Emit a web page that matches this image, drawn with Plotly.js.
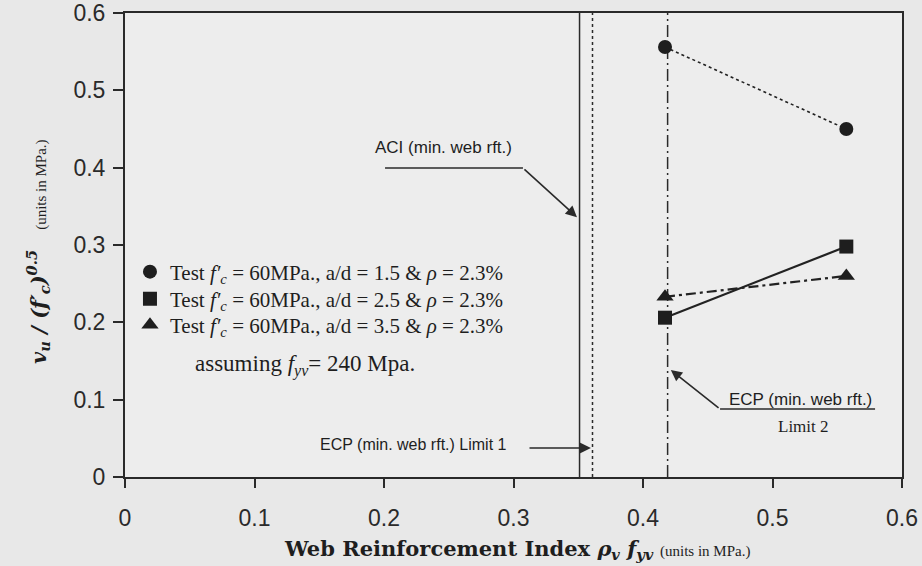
<!DOCTYPE html>
<html><head><meta charset="utf-8">
<script src="https://cdn.plot.ly/plotly-3.0.1.min.js"></script>
<style>html,body{margin:0;padding:0;background:#e8e8e8}</style>
</head><body><div id="chart" style="width:922px;height:566px"></div>
<script>
// ---- data ----
const seriesLabels = [
  'Test <i>f′<sub>c</sub></i> = 60MPa., a/d = 1.5 & <i>ρ</i> = 2.3%',
  'Test <i>f′<sub>c</sub></i> = 60MPa., a/d = 2.5 & <i>ρ</i> = 2.3%',
  'Test <i>f′<sub>c</sub></i> = 60MPa., a/d = 3.5 & <i>ρ</i> = 2.3%'
];
const seriesSymbols = ['circle', 'square', 'triangle-up'];
const seriesDash = ['dot', 'solid', '10px,4px,3px,4px'];
const webIndex = [0.417, 0.557];
const circleVals = [0.556, 0.450];
const squareVals = [0.206, 0.298];
const triangleVals = [0.233, 0.260];
const limitNames = ['ACI (min. web rft.)', 'ECP (min. web rft.) Limit 1', 'ECP (min. web rft.) Limit 2'];
const limitX = [0.351, 0.361, 0.419];
const limitDash = ['solid', 'dot', '12px,4px,2px,4px'];
const xTickVals = [0, 0.1, 0.2, 0.3, 0.4, 0.5, 0.6];
const xTickText = ['0', '0.1', '0.2', '0.3', '0.4', '0.5', '0.6'];
const yTickVals = [0, 0.1, 0.2, 0.3, 0.4, 0.5, 0.6];
const yTickText = ['0', '0.1', '0.2', '0.3', '0.4', '0.5', '0.6'];
const yRange = [0, 0.6];
const xRange = [0, 0.6];

const ink = '#1e1e1e';
const serif = 'Liberation Serif, Times New Roman, serif';
const sans = 'Liberation Sans, Arial, sans-serif';

const traces = [];
limitX.forEach((v, i) => {
  traces.push({
    x: [v, v], y: yRange, mode: 'lines', name: limitNames[i], showlegend: false,
    line: {color: '#2a2a2a', width: 1.5, dash: limitDash[i]}, hoverinfo: 'skip'
  });
});
const seriesVals = [circleVals, squareVals, triangleVals];
seriesVals.forEach((vals, i) => {
  traces.push({
    x: webIndex, y: vals, mode: 'lines+markers', name: seriesLabels[i], showlegend: false,
    line: {color: '#222', width: i === 0 ? 1.6 : 2.2, dash: seriesDash[i]},
    marker: {symbol: seriesSymbols[i], size: i === 2 ? 15 : 14, color: ink}
  });
});
// legend entries (marker only, as in the reference), one legend per row
const legendIds = ['legend', 'legend2', 'legend3'];
seriesLabels.forEach((lab, i) => {
  traces.push({
    x: [null], y: [null], mode: 'markers', name: lab, showlegend: true, legend: legendIds[i],
    marker: {symbol: seriesSymbols[i], size: i === 2 ? 15 : 14, color: ink}
  });
});

const arrowCommon = {showarrow: true, text: '', arrowhead: 2, arrowsize: 1.4, arrowwidth: 1.6,
  arrowcolor: '#2a2a2a', xref: 'x', yref: 'y', axref: 'x', ayref: 'y'};

const annotations = [
  {x: 0.2456, y: 0.4267, xref: 'x', yref: 'y', showarrow: false, text: limitNames[0],
   font: {family: sans, size: 17, color: ink}},
  Object.assign({x: 0.349, y: 0.336, ax: 0.3073, ay: 0.3996}, arrowCommon),
  {x: 0.2224, y: 0.0414, xref: 'x', yref: 'y', showarrow: false, text: limitNames[1],
   font: {family: sans, size: 16, color: ink}},
  Object.assign({x: 0.3598, y: 0.0375, ax: 0.3112, ay: 0.0375}, arrowCommon),
  {x: 0.522, y: 0.0996, xref: 'x', yref: 'y', showarrow: false, text: 'ECP (min. web rft.)',
   font: {family: sans, size: 17, color: ink}},
  {x: 0.5236, y: 0.0647, xref: 'x', yref: 'y', showarrow: false, text: 'Limit 2',
   font: {family: serif, size: 17, color: ink}},
  Object.assign({x: 0.4215, y: 0.1384, ax: 0.4595, ay: 0.0879}, arrowCommon),
  {x: 0.139, y: 0.1448, xref: 'x', yref: 'y', showarrow: false,
   text: 'assuming <i>f<sub>yv</sub></i>= 240 Mpa.', font: {family: serif, size: 23, color: ink}},
  // y-axis title
  {x: -0.112, y: 0.487, xref: 'paper', yref: 'paper', xanchor: 'center', yanchor: 'middle',
   showarrow: false, textangle: -90,
   text: '<b><i>v<sub>u</sub> / (f′<sub>c</sub>)<sup>0.5</sup></i></b>   <span style="font-family:Liberation Serif;font-size:15px;font-weight:normal">(units in MPa.)</span>',
   font: {family: 'DejaVu Serif, serif', size: 21, color: ink}},
  // x-axis title
  {x: 0.505, y: -0.157, xref: 'paper', yref: 'paper', xanchor: 'center', yanchor: 'middle',
   showarrow: false,
   text: '<b>Web Reinforcement Index <i>ρ<sub>v</sub> f<sub>yv</sub></i></b> <span style="font-family:Liberation Serif;font-size:15px">(units in MPa.)</span>',
   font: {family: 'DejaVu Serif, serif', size: 21, color: ink}}
];

const shapes = [
  {type: 'line', xref: 'x', yref: 'y', x0: 0.2008, x1: 0.3073, y0: 0.3996, y1: 0.3996,
   line: {color: '#2a2a2a', width: 1.6}},
  {type: 'line', xref: 'x', yref: 'y', x0: 0.4595, x1: 0.5792, y0: 0.0879, y1: 0.0879,
   line: {color: '#2a2a2a', width: 1.6}}
];

const axisCommon = {
  showgrid: false, zeroline: false, showline: true, mirror: true, linecolor: '#2a2a2a', linewidth: 2,
  ticks: 'outside', tickcolor: '#2a2a2a', tickwidth: 2,
  tickfont: {family: sans, size: 23, color: '#2a2a2a'}
};

const legendBase = {x: 0.0064, xanchor: 'left', yanchor: 'middle', bgcolor: 'rgba(0,0,0,0)',
  font: {family: serif, size: 21, color: ink}};
const legendRowY = [0.4418, 0.3836, 0.3276];

const layout = {
  width: 922, height: 566,
  margin: {l: 125, r: 20, t: 13, b: 89},
  paper_bgcolor: '#e8e8e8', plot_bgcolor: '#ededed',
  showlegend: true,
  legend: Object.assign({}, legendBase, {y: legendRowY[0]}),
  legend2: Object.assign({}, legendBase, {y: legendRowY[1]}),
  legend3: Object.assign({}, legendBase, {y: legendRowY[2]}),
  xaxis: Object.assign({}, axisCommon, {range: xRange, tickvals: xTickVals, ticktext: xTickText,
    ticklen: 9, ticklabelstandoff: 10}),
  yaxis: Object.assign({}, axisCommon, {range: yRange, tickvals: yTickVals, ticktext: yTickText,
    ticklen: 10, ticklabelstandoff: 3}),
  annotations: annotations,
  shapes: shapes
};

Plotly.newPlot('chart', traces, layout, {displayModeBar: false, staticPlot: true});
</script></body></html>
